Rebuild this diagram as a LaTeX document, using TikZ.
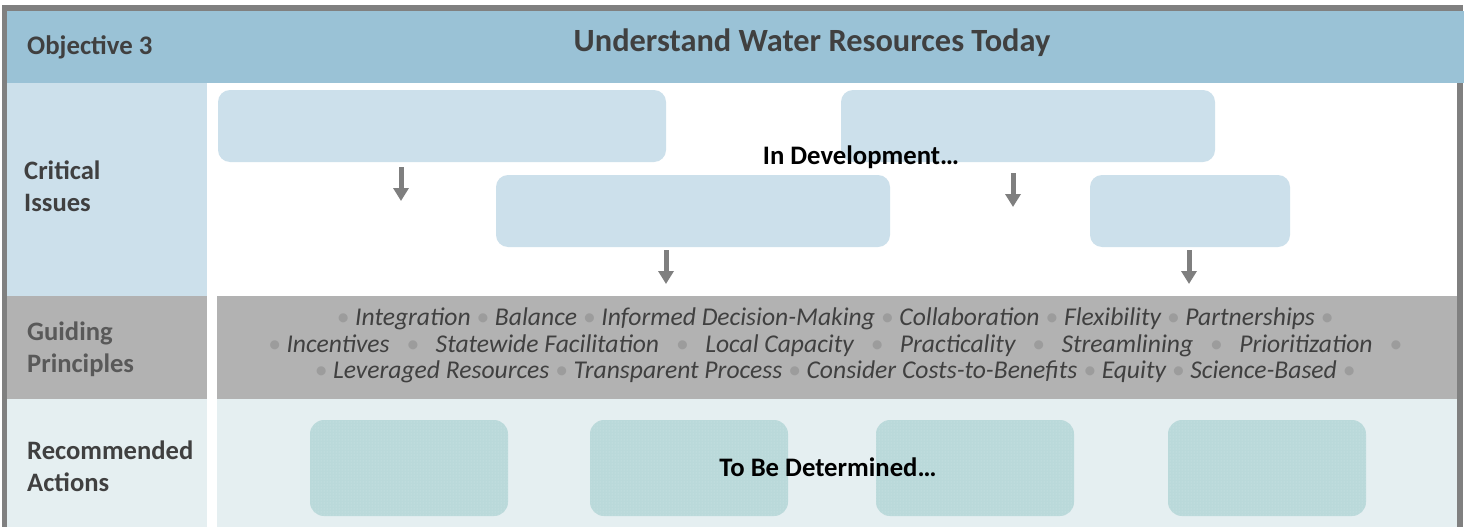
\documentclass[tikz,border=0pt]{standalone}
\usepackage{fontspec}
\setmainfont{Carlito}
\usetikzlibrary{arrows.meta,patterns}
\definecolor{bordergray}{HTML}{808080}
\definecolor{hdrblue}{HTML}{9AC2D6}
\definecolor{critblue}{HTML}{CCE0EB}
\definecolor{guidegray}{HTML}{B2B2B2}
\definecolor{recpale}{HTML}{E5EFF1}
\definecolor{recbox}{HTML}{BAD9DA}
\definecolor{recdot}{HTML}{D2E7E8}
\definecolor{labeltext}{HTML}{404040}
\definecolor{guidelabel}{HTML}{595959}
\definecolor{ptext}{HTML}{404040}
\definecolor{bulletgray}{HTML}{9C9C9C}
\definecolor{arrowgray}{HTML}{7F7F7F}
\newcommand\pbul{\textcolor{bulletgray}{\textbullet}}
\begin{document}
\begin{tikzpicture}[x=1pt,y=-1pt,
  cibox/.style={fill=critblue, rounded corners=12pt, minimum height=72pt, inner sep=0pt},
  recbx/.style={fill=recbox, rounded corners=14pt, minimum width=198pt, minimum height=96pt, inner sep=0pt,
    postaction={pattern=dots, pattern color=recdot}},
  rowlabel/.style={anchor=base west, inner sep=0pt, font=\fontsize{26.6}{32}\selectfont\bfseries, text=labeltext},
  princ/.style={anchor=base, inner sep=0pt, font=\fontsize{25.6}{28}\selectfont\itshape, text=ptext},
  downarrow/.style={draw=arrowgray, line width=5pt, -{Triangle[width=15pt,length=13pt]}},
  note/.style={inner sep=0pt, font=\fontsize{26.7}{30}\selectfont\bfseries, text=black}
]
\useasboundingbox (0,0) rectangle (1469,527);
\fill[white] (0,0) rectangle (1469,527);
% frame
\fill[bordergray] (2,5) rectangle (1463,527);
\fill[white] (7,11) rectangle (1457,527);
% header
\fill[hdrblue] (7,11) rectangle (1464,83);
% left column
\fill[critblue] (7,83) rectangle (207,296);
\fill[guidegray] (7,296) rectangle (207,399);
\fill[recpale] (7,399) rectangle (207,527);
% right bands
\fill[guidegray] (217,296) rectangle (1457,399);
\fill[recpale] (217,399) rectangle (1457,527);

% header texts
\node[anchor=base west, inner sep=0pt, font=\fontsize{26.8}{30}\selectfont\bfseries, text=labeltext] (obj) at (27,55) {Objective 3};
\node[anchor=base, inner sep=0pt, font=\fontsize{32.4}{36}\selectfont\bfseries, text=labeltext] (title) at (812,52) {Understand Water Resources Today};

% row labels
\node[rowlabel] (ci1) at (24,179) {Critical};
\node[rowlabel] (ci2) at (24,211) {Issues};
\node[rowlabel, text=guidelabel] (gp1) at (27,340) {Guiding};
\node[rowlabel, text=guidelabel] (gp2) at (27,372) {Principles};
\node[rowlabel] (ra1) at (27,459) {Recommended};
\node[rowlabel] (ra2) at (27,491) {Actions};

% critical issue boxes
\node[cibox, minimum width=448pt] (c1) at (442,126) {};
\node[cibox, minimum width=374pt] (c2) at (1028,126) {};
\node[cibox, minimum width=394pt] (c3) at (693,211) {};
\node[cibox, minimum width=200pt] (c4) at (1190,211) {};

\node[note] (indev) at (861,157) {In Development…};

% arrows
\coordinate (a1s) at (401,167); \coordinate (a1e) at (401,201);
\coordinate (a2s) at (1013,173); \coordinate (a2e) at (1013,207);
\coordinate (a3s) at (666,250); \coordinate (a3e) at (666,284);
\coordinate (a4s) at (1189,250); \coordinate (a4e) at (1189,284);
\draw[downarrow] (a1s) -- (a1e);
\draw[downarrow] (a2s) -- (a2e);
\draw[downarrow] (a3s) -- (a3e);
\draw[downarrow] (a4s) -- (a4e);

% guiding principles
\node[princ] (pl1) at (835,325) {\pbul{} Integration \pbul{} Balance \pbul{} Informed Decision-Making \pbul{} Collaboration \pbul{} Flexibility \pbul{} Partnerships \pbul};
\node[princ] (pl2) at (835,352) {\makebox[1134pt]{\pbul{} Incentives\hfill\pbul\hfill Statewide Facilitation\hfill\pbul\hfill Local Capacity\hfill\pbul\hfill Practicality\hfill\pbul\hfill Streamlining\hfill\pbul\hfill Prioritization\hfill\pbul}};
\node[princ] (pl3) at (835,378) {\pbul{} Leveraged Resources \pbul{} Transparent Process \pbul{} Consider Costs-to-Benefits \pbul{} Equity \pbul{} Science-Based \pbul};

% recommended action boxes
\node[recbx] (r1) at (409,468) {};
\node[recbx] (r2) at (689,468) {};
\node[recbx] (r3) at (975,468) {};
\node[recbx] (r4) at (1267,468) {};
\node[note] (tbd) at (828,467) {To Be Determined…};
\end{tikzpicture}
\end{document}
